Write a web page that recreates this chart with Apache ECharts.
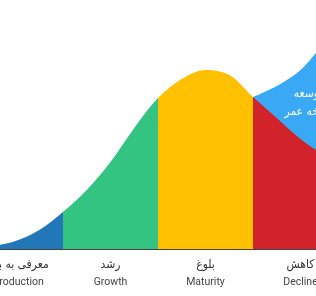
<!DOCTYPE html>
<html>
<head>
<meta charset="utf-8">
<script src="https://cdn.jsdelivr.net/npm/echarts@6/dist/echarts.min.js"></script>
<style>
  html, body { margin: 0; padding: 0; background: #fff; }
  #lifeCycle { width: 316px; height: 296px; }
</style>
</head>
<body>
<div id="lifeCycle"></div>
<script>
// stages of the product life cycle
const stagesFa = ['معرفی به بازار', 'رشد', 'بلوغ', 'کاهش']
const stagesEn = ['Introduction', 'Growth', 'Maturity', 'Decline']
const stageColors = ['#2277b9', '#33c481', '#ffc000', '#d2232a']
const stageCenters = [0.5, 1.5, 2.5, 3.5]

// sales curve (x in stage units, y = sales)
const salesX = [0, 0.25, 0.5, 0.75, 1.0, 1.25, 1.5, 1.75, 2.0, 2.25, 2.5, 2.75, 3.0, 3.25, 3.5, 3.75, 4.0]
const salesY = [1, 3, 8, 19, 37, 59, 87, 121, 151, 170, 179, 174, 152, 131, 110, 94, 84]

// life cycle extension curve
const extX = [3.0, 3.25, 3.5, 3.75, 4.0]
const extY = [152, 163, 179, 206, 230]
const extText = ['توسعه', 'چرخه عمر']

const chart = echarts.init(document.getElementById('lifeCycle'))

const option = {
  animation: false,
  grid: {
    left: 0,
    right: 0,
    top: 0,
    bottom: 47,
    outerBoundsMode: 'none',
    containLabel: false
  },
  xAxis: {
    type: 'value',
    // the picture is a crop of the full chart
    min: 0.337,
    max: 3.663,
    axisLine: { show: true, lineStyle: { color: '#444', width: 2 } },
    axisTick: { show: false },
    splitLine: { show: false },
    axisLabel: {
      customValues: stageCenters,
      hideOverlap: false,
      showMinLabel: true,
      showMaxLabel: true,
      margin: 6,
      formatter: function (value) {
        const i = Math.floor(value)
        return '{fa|' + stagesFa[i] + '}\n{en|' + stagesEn[i] + '}'
      },
      rich: {
        fa: { fontFamily: 'DejaVu Sans Condensed', fontSize: 12, color: '#333', lineHeight: 19 },
        en: { fontFamily: 'Roboto', fontSize: 10.5, color: '#444', lineHeight: 16 }
      }
    }
  },
  yAxis: {
    type: 'value',
    min: 0,
    max: 249,
    show: false,
    splitLine: { show: false }
  },
  visualMap: {
    type: 'piecewise',
    show: false,
    dimension: 0,
    seriesIndex: 1,
    pieces: [
      { lt: 1, color: stageColors[0] },
      { gte: 1, lt: 2, color: stageColors[1] },
      { gte: 2, lt: 3, color: stageColors[2] },
      { gte: 3, color: stageColors[3] }
    ]
  },
  series: [{
    name: 'extension',
    type: 'line',
    smooth: 0.33,
    symbol: 'none',
    z: 1,
    lineStyle: { width: 0 },
    areaStyle: { color: '#3aa9f5', opacity: 1 },
    data: extX.map((x, i) => [x, extY[i]])
  }, {
    name: 'sales',
    type: 'line',
    smooth: 0.33,
    symbol: 'none',
    z: 2,
    lineStyle: { width: 0 },
    areaStyle: { opacity: 1 },
    data: salesX.map((x, i) => [x, salesY[i]])
  }],
  graphic: [{
    type: 'text',
    x: 308,
    y: 103,
    z: 10,
    style: {
      text: extText.join('\n'),
      fill: '#fff',
      font: '12px "DejaVu Sans Condensed"',
      lineHeight: 18,
      textAlign: 'center',
      textVerticalAlign: 'middle'
    }
  }]
}

chart.setOption(option)
</script>
</body>
</html>
